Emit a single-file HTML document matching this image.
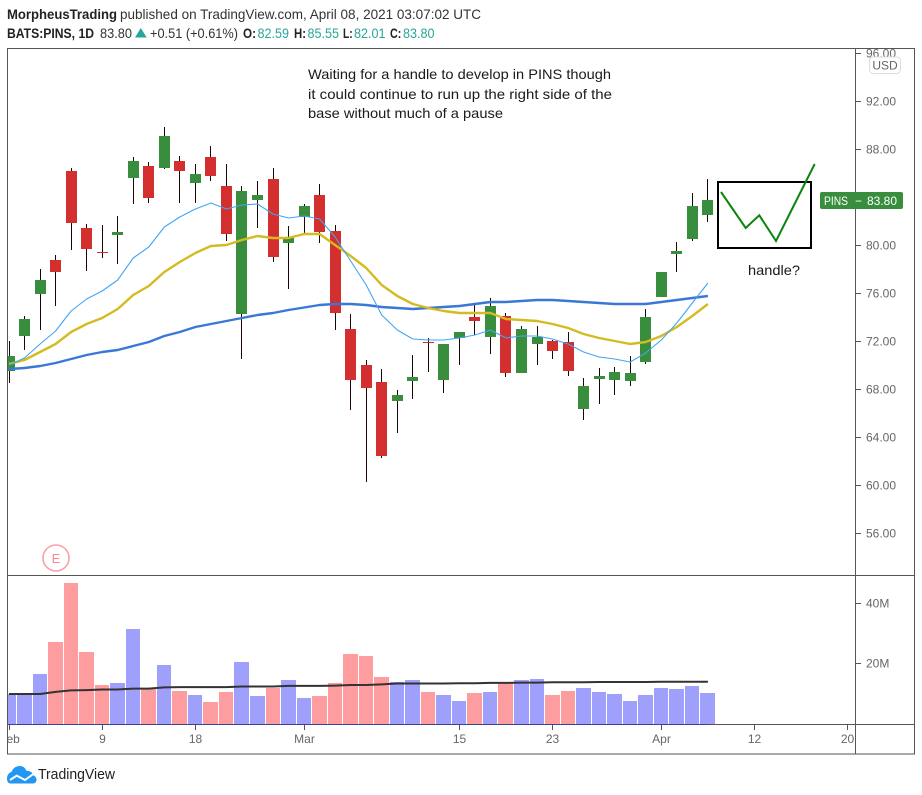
<!DOCTYPE html>
<html lang="en">
<head>
<meta charset="utf-8">
<title>PINS daily chart</title>
<style>
html,body{margin:0;padding:0;background:#fff;width:922px;height:795px;overflow:hidden}
svg{display:block}
text{font-family:"Liberation Sans","DejaVu Sans",sans-serif}
</style>
</head>
<body>
<svg id="chart" xmlns="http://www.w3.org/2000/svg" width="922" height="795" viewBox="0 0 922 795">
  <defs>
    <clipPath id="price-clip"><rect x="8" y="49" width="847" height="526"/></clipPath>
    <clipPath id="vol-clip"><rect x="8" y="576" width="847" height="148"/></clipPath>
    <clipPath id="axis-clip"><rect x="856" y="49" width="58" height="526"/></clipPath>
    <clipPath id="time-clip"><rect x="8" y="725" width="847" height="29"/></clipPath>
  </defs>

  <g>
    <text x="7" y="19" font-size="14" font-weight="bold" fill="#222" textLength="110" lengthAdjust="spacingAndGlyphs">MorpheusTrading</text>
    <text x="120" y="19" font-size="14" fill="#333" textLength="361" lengthAdjust="spacingAndGlyphs">published on TradingView.com, April 08, 2021 03:07:02 UTC</text>
    <text x="7" y="38" font-size="13.5" font-weight="bold" fill="#222" textLength="87" lengthAdjust="spacingAndGlyphs">BATS:PINS, 1D</text>
    <text x="100" y="38" font-size="13.5" fill="#333" textLength="32" lengthAdjust="spacingAndGlyphs">83.80</text>
    <polygon points="135,37.5 146.7,37.5 140.8,28" fill="#26a69a"/>
    <text x="150" y="38" font-size="13.5" fill="#333" textLength="88" lengthAdjust="spacingAndGlyphs">+0.51 (+0.61%)</text>
    <text x="243" y="38" font-size="13.5" font-weight="bold" fill="#222" textLength="13" lengthAdjust="spacingAndGlyphs">O:</text>
    <text x="257.5" y="38" font-size="13.5" fill="#26a69a" textLength="31.5" lengthAdjust="spacingAndGlyphs">82.59</text>
    <text x="294" y="38" font-size="13.5" font-weight="bold" fill="#222" textLength="12" lengthAdjust="spacingAndGlyphs">H:</text>
    <text x="307.5" y="38" font-size="13.5" fill="#26a69a" textLength="31.5" lengthAdjust="spacingAndGlyphs">85.55</text>
    <text x="343" y="38" font-size="13.5" font-weight="bold" fill="#222" textLength="9.700" lengthAdjust="spacingAndGlyphs">L:</text>
    <text x="354" y="38" font-size="13.5" fill="#26a69a" textLength="31.5" lengthAdjust="spacingAndGlyphs">82.01</text>
    <text x="390" y="38" font-size="13.5" font-weight="bold" fill="#222" textLength="11.300" lengthAdjust="spacingAndGlyphs">C:</text>
    <text x="403" y="38" font-size="13.5" fill="#26a69a" textLength="31.5" lengthAdjust="spacingAndGlyphs">83.80</text>
  </g>

  <g id="price-ticks" clip-path="url(#axis-clip)"></g>
  <g id="vol-bars" clip-path="url(#vol-clip)"></g>
  <path id="vol-ma" clip-path="url(#vol-clip)" fill="none" stroke="#333" stroke-width="2"/>
  <g id="vol-ticks"></g>
  <g id="time-ticks"></g>
  <g id="candles" clip-path="url(#price-clip)"></g>
  <g clip-path="url(#price-clip)">
    <path id="ma-slow" fill="none" stroke="#3a78d8" stroke-width="2.4" stroke-linejoin="round"/>
    <path id="ma-mid" fill="none" stroke="#d4bb22" stroke-width="2.4" stroke-linejoin="round"/>
    <path id="ma-fast" fill="none" stroke="#42a5f5" stroke-width="1.1" stroke-linejoin="round"/>
  </g>

  <g>
    <circle cx="56" cy="558" r="13" fill="#fff" stroke="#f9a0a6" stroke-width="1.6"/>
    <text x="56" y="563" font-size="13" fill="#f58a92" text-anchor="middle">E</text>
  </g>

  <text x="308" y="79" font-size="14" fill="#1a1a1a" textLength="303" lengthAdjust="spacingAndGlyphs">Waiting for a handle to develop in PINS though</text>
  <text x="308" y="99" font-size="14" fill="#1a1a1a" textLength="304" lengthAdjust="spacingAndGlyphs">it could continue to run up the right side of the</text>
  <text x="308" y="118" font-size="14" fill="#1a1a1a" textLength="195" lengthAdjust="spacingAndGlyphs">base without much of a pause</text>

  <rect x="718" y="182" width="93" height="66" fill="none" stroke="#000" stroke-width="2"/>
  <polyline points="721,192 745.7,228 759.3,215.3 776,241 814.7,164" fill="none" stroke="#0b8410" stroke-width="2"/>
  <text x="748" y="275" font-size="14" fill="#1a1a1a" textLength="52" lengthAdjust="spacingAndGlyphs">handle?</text>

  <g fill="none" stroke="#555" stroke-width="1" shape-rendering="crispEdges">
    <rect x="7.5" y="48.5" width="907" height="705.5"/>
    <line x1="855.5" y1="48.5" x2="855.5" y2="754"/>
    <line x1="7.5" y1="575.5" x2="914.5" y2="575.5"/>
    <line x1="7.5" y1="724.5" x2="914.5" y2="724.5"/>
  </g>
  <line id="vol-base" y1="724.5" y2="724.5" x1="8" stroke="#3f3f8f" stroke-width="1" shape-rendering="crispEdges"/>

  <g>
    <rect x="869.5" y="57" width="31" height="16.5" rx="4" fill="#fff" stroke="#dcdce6"/>
    <text x="885" y="69.5" font-size="12" fill="#666" text-anchor="middle">USD</text>
  </g>

  <g>
    <rect x="820" y="192" width="83" height="17" rx="2" fill="#388e3c"/>
    <text x="824" y="205" font-size="12" fill="#fff" textLength="24" lengthAdjust="spacingAndGlyphs">PINS</text>
    <text x="855" y="205" font-size="12" fill="#fff">−</text>
    <text x="867" y="205" font-size="12" fill="#fff">83.80</text>
  </g>

  <g>
    <path d="M7 779C7 775 9 772.500 11.500 772C13 768 16 766 20 766C23 766 25.500 768 26.500 771C30 770.500 33 773 33.500 775.500C35.500 776 36.500 778 36.500 780C36.500 782 35 783.500 33 783.500H10.500C8.500 783.500 7 781.500 7 779Z" fill="#2196f3"/>
    <polyline points="10,780 16.700,775.700 25,780 33.300,774" fill="none" stroke="#fff" stroke-width="2"/>
    <text x="38" y="779" font-size="14.500" fill="#222" textLength="77" lengthAdjust="spacingAndGlyphs">TradingView</text>
  </g>
</svg>

<script>
const categoriesCount = 46;
const opens  = [69.5,72.42,75.92,78.75,86.17,81.42,79.42,80.83,85.58,86.58,86.42,87,85.17,87.33,84.92,74.25,83.75,85.5,80.17,82.33,84.17,81.17,73,70,68.58,67,68.67,71.92,68.75,72.25,74,72.33,74.08,69.33,71.75,72,71.92,66.33,68.83,68.75,68.67,70.25,75.67,79.25,80.5,82.5];
const highs  = [72,74.08,78,79.17,86.42,81.75,81.67,82.42,87.33,86.92,89.83,87.42,86.75,88.25,86.75,84.92,85.33,86.42,81.58,83.42,85.08,81.67,74.25,70.42,69.67,67.92,70.83,72.25,71.75,72.75,75,75.58,74.33,73.25,73.25,72.08,72.75,68.92,69.75,69.83,70.75,74.67,77.75,80.25,84.33,85.5];
const lows   = [68.5,71.25,72.92,74.92,79.58,77.83,78.92,78.42,83.42,83.5,86.33,83.5,83.5,85.33,80.33,70.5,81.42,78.58,76.33,80.92,80.17,72.92,66.25,60.25,62.25,64.33,67.17,69.42,67.67,70,72.5,70.92,69,69.33,70,70.5,69.08,65.42,66.75,67.5,68.25,70.08,75.67,77.75,80.33,81.92];
const closes = [70.75,73.83,77.08,77.75,81.83,79.67,79.33,81.08,87,83.92,89.08,86.17,85.92,85.75,80.92,84.5,84.17,79,80.58,83.25,81.08,74.33,68.75,68.08,62.42,67.5,69,71.83,71.75,72.75,73.67,74.92,69.33,73,72.33,71.17,69.5,68.25,69.08,69.42,69.33,74,77.75,79.5,83.25,83.75];
const maFast = [70,70.58,71.75,72.83,74.5,75.5,76.17,77.08,78.92,79.83,81.5,82.33,83,83.5,83,83.33,83.42,82.58,82.25,82.42,82.17,80.67,78.67,76.67,74.17,72.92,72.17,72.08,72.08,72.25,72.5,72.92,72.25,72.42,72.42,72.17,71.75,71.08,70.67,70.5,70.25,71,72.08,73.5,75.17,76.83];
const maMid  = [70.08,70.42,71.08,71.75,72.75,73.42,73.92,74.67,75.83,76.58,77.75,78.58,79.33,79.92,80,80.42,80.75,80.58,80.58,80.92,80.92,80,79.08,78.08,76.67,75.75,75.08,74.75,74.5,74.33,74.33,74.33,73.83,73.75,73.67,73.42,73.08,72.58,72.25,72,71.75,71.92,72.42,73.17,74.08,75.08];
const maSlow = [69.67,69.75,69.92,70.17,70.5,70.83,71.08,71.25,71.58,71.92,72.42,72.75,73.17,73.42,73.67,73.92,74.17,74.33,74.58,74.79,75,75.08,75.08,75,74.83,74.75,74.67,74.75,74.83,74.92,75.08,75.25,75.25,75.33,75.42,75.42,75.33,75.25,75.17,75.08,75.08,75.08,75.25,75.42,75.58,75.75];
const volumes = [9.5,9.5,16.2,26.8,46.5,23.5,12.5,13.2,31.2,11.5,19.2,10.5,9.2,6.8,10.2,20.2,8.8,11.5,14.2,8.2,8.8,13.2,22.8,22.2,15.2,13.5,14.2,10.2,9.2,7.2,9.8,10.2,13.5,14.2,14.5,9.2,10.5,11.5,10.2,9.5,7.2,9.2,11.5,11.2,12.2,9.8];
const volumeMa = [9.5,9.5,9.5,10.2,10.7,10.8,11,11,11.3,11.3,11.7,11.8,11.8,11.8,11.8,12,12,12,12.2,12.2,12.2,12.3,12.5,12.5,12.7,13,13,13,13,13.1,13.1,13.2,13.2,13.3,13.3,13.4,13.4,13.4,13.5,13.5,13.5,13.5,13.6,13.6,13.6,13.6];
const priceTicks = [96,92,88,84,80,76,72,68,64,60,56];
const priceTickLabels = ["96.00","92.00","88.00","","80.00","76.00","72.00","68.00","64.00","60.00","56.00"];
const volumeTicks = [40,20];
const volumeTickLabels = ["40M","20M"];
const timeTickBars = [0,6,12,19,29,35,42,48,54];
const timeTickLabels = ["Feb","9","18","Mar","15","23","Apr","12","20"];

const NS = "http://www.w3.org/2000/svg";
function xBar(i){ return 9 + 15.53 * i; }
function xPix(i){ return Math.floor(xBar(i)) + 0.5; }
function yPrice(p){ return 245 + (80 - p) * 12; }
function yVol(v){ return 722.5 - v * 3; }
function mk(tag, parent){
  const el = document.createElementNS(NS, tag);
  parent.appendChild(el);
  return el;
}
function set(el, key, val){ el.setAttribute(key, val); }

const candleGroup = document.getElementById("candles");
for (let i = 0; i < opens.length; i++) {
  const up = closes[i] >= opens[i];
  const cx = xPix(i);
  const wick = mk("line", candleGroup);
  
  
  set(wick, "x1", cx); set(wick, "x2", cx);
  set(wick, "y1", yPrice(highs[i])); set(wick, "y2", yPrice(lows[i]));
  set(wick, "stroke", "#1c0606"); set(wick, "stroke-width", 1);
  set(wick, "shape-rendering", "crispEdges");
  const top = yPrice(Math.max(opens[i], closes[i]));
  const bot = yPrice(Math.min(opens[i], closes[i]));
  const body = mk("rect", candleGroup);
  
  
  set(body, "x", cx - 5.5); set(body, "width", 11);
  set(body, "y", top); set(body, "height", Math.max(1, bot - top));
  set(body, "fill", up ? "#388e3c" : "#d32f2f");
  set(body, "shape-rendering", "crispEdges");
}

function linePath(values, yFn){
  return values.map((v, i) => (i ? "L" : "M") + xBar(i).toFixed(1) + " " + yFn(v).toFixed(1)).join("");
}
document.getElementById("ma-fast").setAttribute("d", linePath(maFast, yPrice));
document.getElementById("ma-mid").setAttribute("d", linePath(maMid, yPrice));
document.getElementById("ma-slow").setAttribute("d", linePath(maSlow, yPrice));
document.getElementById("vol-ma").setAttribute("d", linePath(volumeMa, yVol));
document.getElementById("vol-base").setAttribute("x2", xBar(volumes.length - 1));

const volGroup = document.getElementById("vol-bars");
for (let i = 0; i < volumes.length; i++) {
  const left = xPix(i) - 7.5;
  const right = i < volumes.length - 1 ? xPix(i + 1) - 8.5 : left + 15;
  const bar = mk("rect", volGroup);
  
  
  const y = yVol(volumes[i]);
  set(bar, "x", left); set(bar, "width", right - left);
  set(bar, "y", y); set(bar, "height", 724.5 - y);
  set(bar, "fill", closes[i] >= opens[i] ? "#9f9ffc" : "#fe9d9f");
  set(bar, "shape-rendering", "crispEdges");
}

function axisTick(group, x1, y1, x2, y2){
  const t = mk("line", group);
  
  
  set(t, "x1", x1); set(t, "y1", y1); set(t, "x2", x2); set(t, "y2", y2);
  set(t, "stroke", "#555"); set(t, "shape-rendering", "crispEdges");
}
function axisText(group, x, y, anchor, str){
  const t = mk("text", group);
  
  
  set(t, "x", x); set(t, "y", y); set(t, "text-anchor", anchor);
  set(t, "font-size", 12); set(t, "fill", "#666");
  t.textContent = str;
}

const priceGroup = document.getElementById("price-ticks");
priceTicks.forEach((p, i) => {
  const y = Math.round(yPrice(p)) + 0.5;
  if (priceTickLabels[i]) {
    axisTick(priceGroup, 856, y, 861, y);
    axisText(priceGroup, 866, y + 4, "start", priceTickLabels[i]);
  }
});
const volTickGroup = document.getElementById("vol-ticks");
volumeTicks.forEach((v, i) => {
  const y = Math.round(yVol(v)) + 0.5;
  axisTick(volTickGroup, 856, y, 861, y);
  axisText(volTickGroup, 866, y + 4, "start", volumeTickLabels[i]);
});
const timeGroup = document.getElementById("time-ticks");
timeTickBars.forEach((b, i) => {
  const x = xPix(b);
  axisTick(timeGroup, x, 725, x, 730);
  const g = mk("g", timeGroup);
  
  
  set(g, "clip-path", "url(#time-clip)");
  axisText(g, x, 743, "middle", timeTickLabels[i]);
});
</script>
</body>
</html>
